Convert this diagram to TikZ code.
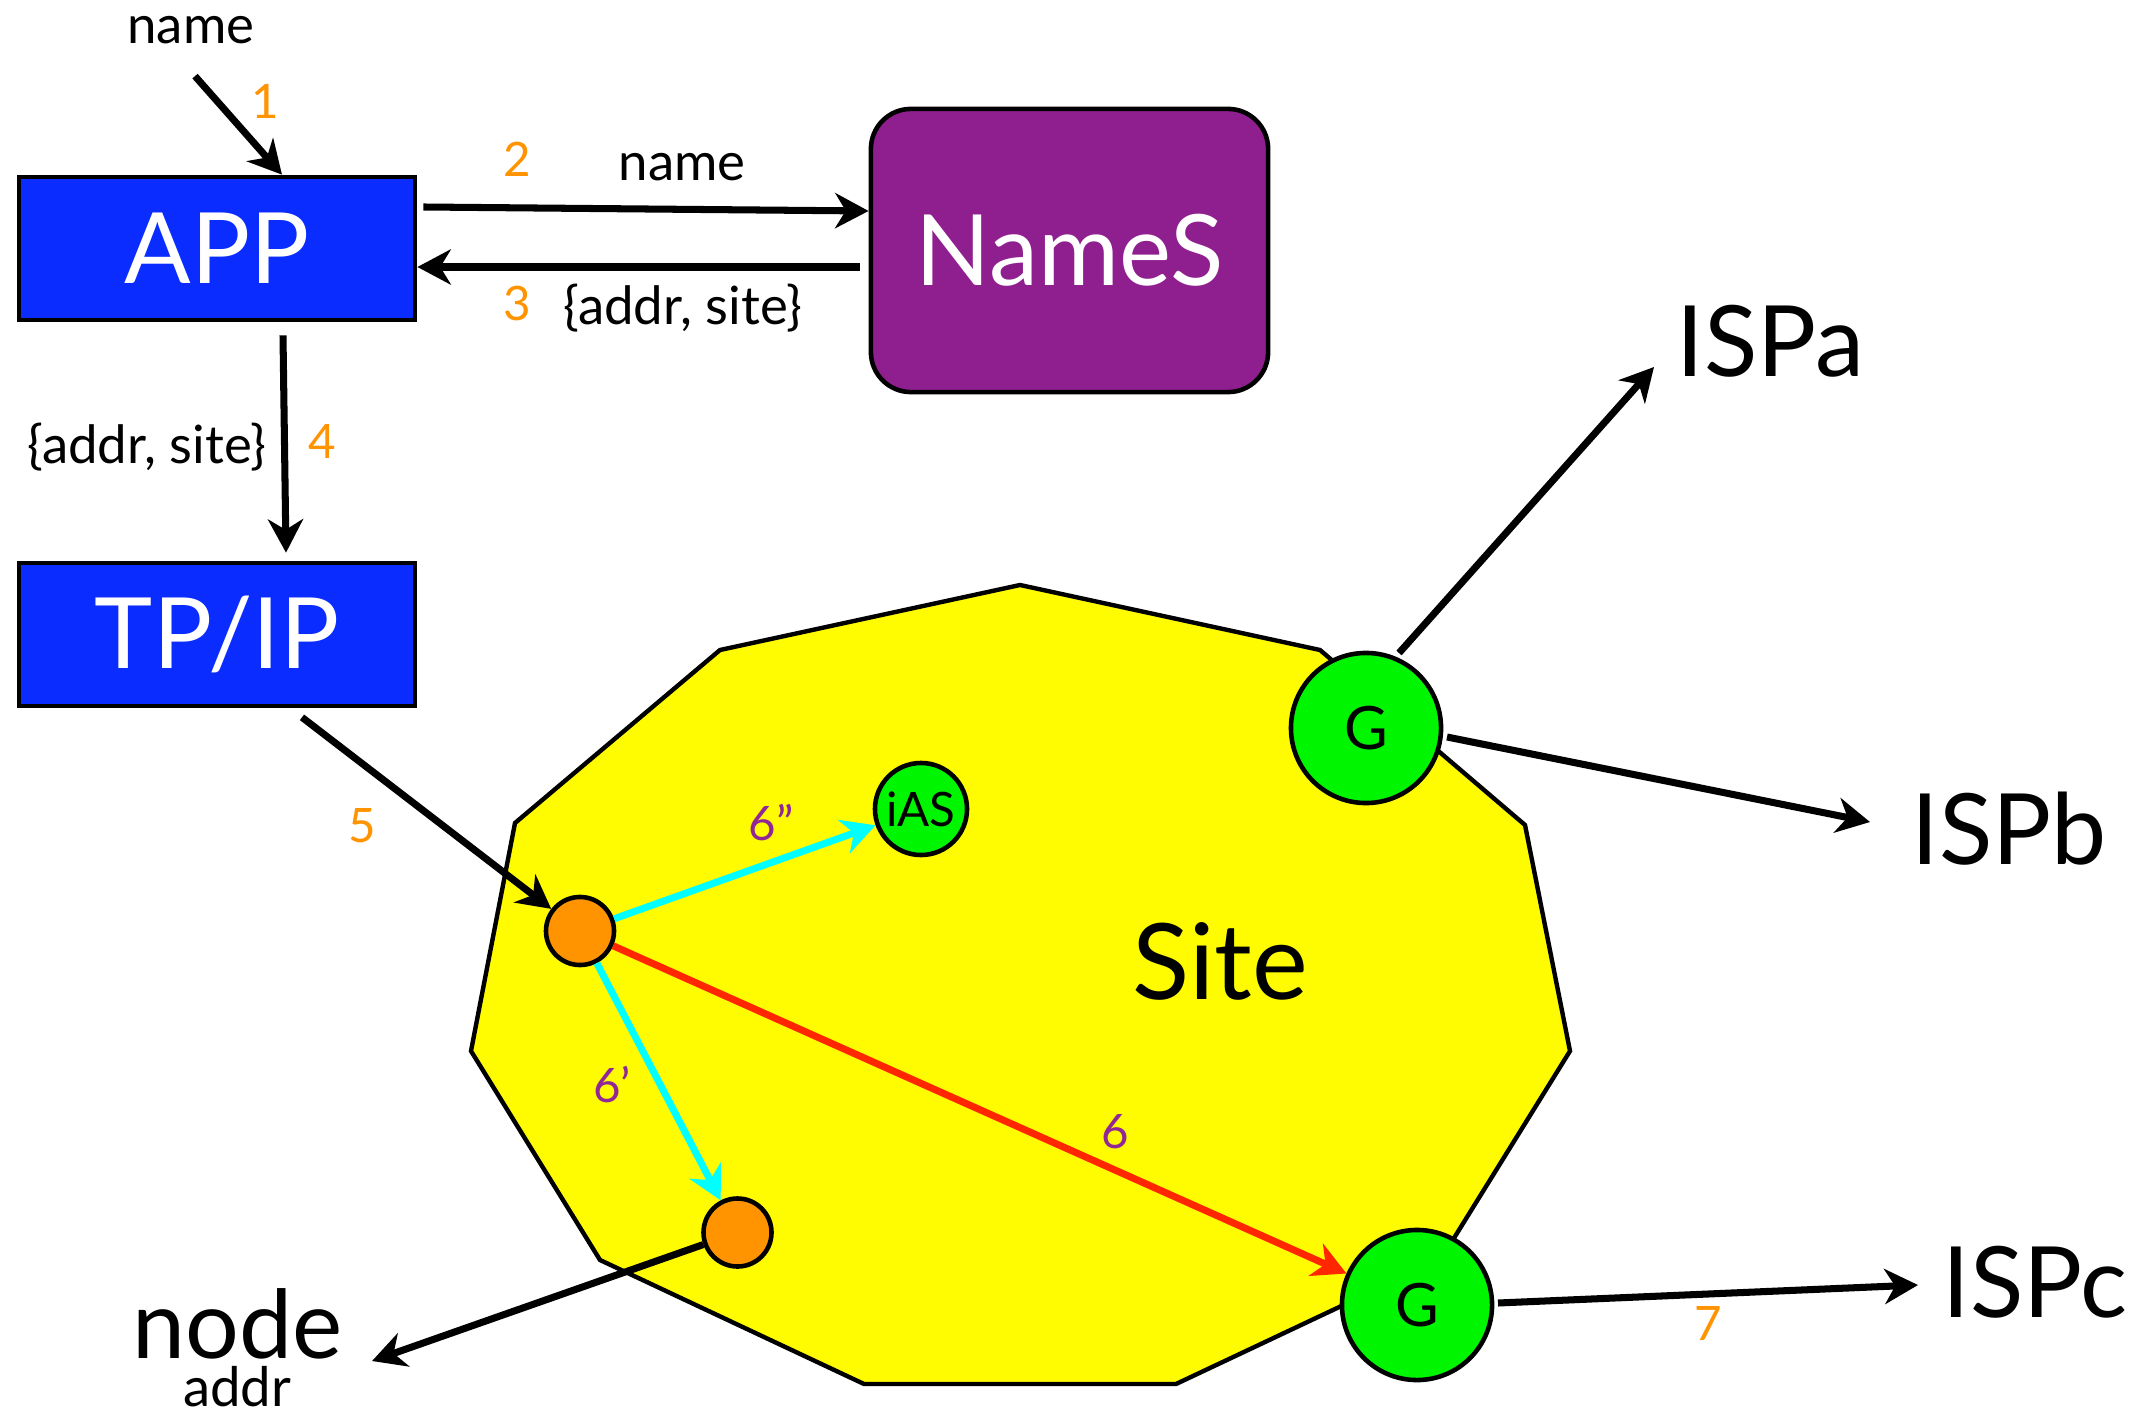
\documentclass[tikz,border=0pt]{standalone}
\usepackage{fontspec}
\setmainfont{Lato}
\usetikzlibrary{arrows.meta,calc}
\definecolor{appblue}{RGB}{10,44,255}
\definecolor{namepurple}{RGB}{143,31,143}
\definecolor{siteyellow}{RGB}{255,251,0}
\definecolor{ggreen}{RGB}{0,245,0}
\definecolor{onodefill}{RGB}{255,147,0}
\definecolor{numorange}{RGB}{255,147,0}
\definecolor{redarr}{RGB}{255,38,0}
\definecolor{cyanarr}{RGB}{0,255,255}
\definecolor{numpurple}{RGB}{145,38,150}
\tikzset{
  bigbox/.style={draw=black, line width=1.3pt, inner sep=0pt, text=white,
    font=\fontsize{28}{32}\selectfont},
  arr/.style={line width=2pt, -{Stealth[length=9.5pt,width=10pt,inset=3pt]}},
  lbl/.style={inner sep=0pt, anchor=base},
  smallf/.style={font=\fontsize{15}{18}\selectfont},
  orangenum/.style={lbl, text=numorange, font=\fontsize{13.5}{16}\selectfont},
  purplenum/.style={lbl, text=numpurple, font=\fontsize{13.5}{16}\selectfont},
  gnode/.style={circle, draw=black, line width=1.3pt, fill=ggreen, inner sep=0pt,
    minimum size=1.5cm, font=\fontsize{17}{20}\selectfont},
  onode/.style={circle, draw=black, line width=1.3pt, fill=onodefill, inner sep=0pt,
    minimum size=0.68cm},
  sitepoly/.style={draw=black, line width=1.25pt, fill=siteyellow, line join=miter},
  isp/.style={inner sep=0pt, anchor=base west, font=\fontsize{28}{32}\selectfont}
}
\begin{document}
\begin{tikzpicture}[x=0.01cm, y=-0.01cm]
\useasboundingbox (0,0) rectangle (2134,1419);
\fill[white] (0,0) rectangle (2134,1419);

% Site polygon
\draw[sitepoly] (1020,585) -- (1320,650) -- (1525,825) -- (1570,1051) -- (1441,1259)
  -- (1176,1384) -- (864,1384) -- (600,1260) -- (471,1051) -- (515,823) -- (720,650) -- cycle;
\node[lbl, font=\fontsize{30}{35}\selectfont] (site) at (1220,999) {Site};

% boxes
\node[bigbox, fill=appblue, minimum width=3.96cm, minimum height=1.43cm] (APP) at (217,248.5) {APP};
\node[bigbox, fill=namepurple, rounded corners=0.4cm, minimum width=3.97cm, minimum height=2.83cm] (NameS) at (1069.5,250.5) {NameS};
\node[bigbox, fill=appblue, minimum width=3.96cm, minimum height=1.43cm] (TPIP) at (217,634.5) {TP/IP};

% circles
\node[gnode] (G1) at (1366,728) {G};
\node[gnode] (G2) at (1417,1305) {G};
\node[circle, draw=black, line width=1.3pt, fill=ggreen, inner sep=0pt, minimum size=0.92cm,
  font=\fontsize{13.5}{16}\selectfont] (iAS) at (921,809) {iAS};
\node[onode] (O1) at (580,931) {};
\node[onode] (O2) at (737.5,1232.5) {};

% text labels
\node[lbl, smallf] (nameTop) at (191,44) {name};
\node[lbl, smallf] (name2) at (682,181) {name};
\node[lbl, smallf] (addr3) at (683,325) {\{addr, site\}};
\node[lbl, smallf] (addr4) at (147,464) {\{addr, site\}};
\node[orangenum] (n1) at (265,119) {1};
\node[orangenum] (n2) at (517,177) {2};
\node[orangenum] (n3) at (517,321) {3};
\node[orangenum] (n4) at (322,459) {4};
\node[orangenum] (n5) at (362,842) {5};
\node[orangenum] (n7) at (1708,1340) {7};
\node[purplenum] (p6b) at (771,840) {6”};
\node[purplenum] (p6a) at (612,1102) {6’};
\node[purplenum] (p6) at (1115,1148) {6};

\node[isp] (ISPa) at (1676,377) {ISPa};
\node[isp] (ISPb) at (1911,864) {ISPb};
\node[isp] (ISPc) at (1942,1317) {ISPc};
\node[lbl, font=\fontsize{27}{30}\selectfont] (nodeT) at (238,1358) {node};
\node[lbl, font=\fontsize{15.5}{18}\selectfont] (addrT) at (237,1406) {addr};

% free ends
\coordinate (nodeEnd) at (372,1361);
\coordinate (ISPaEnd) at (1654,367);
\coordinate (ISPbEnd) at (1870,822);
\coordinate (ISPcEnd) at (1918,1285);

% connectors
\draw[arr] ($(nameTop.south)+(4,31)$) -- ($(APP.north)+(65,0)$);
\draw[arr] ($(APP.east)+(6,-41.5)$) -- ($(NameS.west)+(0,-39.5)$);
\draw[arr] ($(NameS.west)+(-9,16.5)$) -- ($(APP.east)+(0,18.5)$);
\draw[arr] ($(APP.south)+(66,13)$) -- ($(TPIP.north)+(69,-8)$);
\draw[arr] ($(TPIP.south)+(85,9)$) -- (O1);
\draw[arr, draw=redarr] (O1) -- (G2);
\draw[arr, draw=cyanarr] (O1) -- (iAS);
\draw[arr, draw=cyanarr] (O1) -- (O2);
\draw[arr] (O2) -- (nodeEnd);
\draw[arr] ($(G1.center)+(33,-75)$) -- (ISPaEnd);
\draw[arr] ($(G1.center)+(81,9)$) -- (ISPbEnd);
\draw[arr] ($(G2.center)+(81,-2)$) -- (ISPcEnd);
\end{tikzpicture}
\end{document}
